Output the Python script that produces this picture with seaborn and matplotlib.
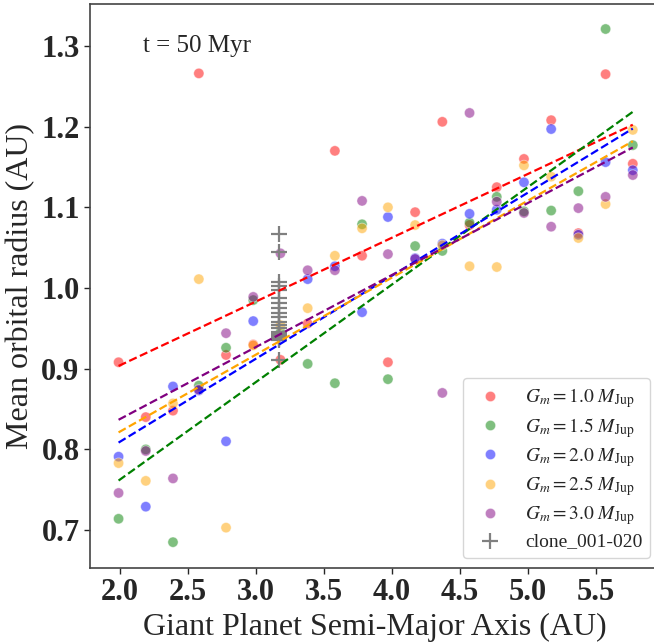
import numpy as np
import pandas as pd
import matplotlib
matplotlib.use("Agg")
import matplotlib.pyplot as plt
import seaborn as sns

# ---- data ----
a_giant = [1.99, 2.19, 2.39, 2.58, 2.78, 2.98, 3.18, 3.38, 3.58, 3.78,
           3.97, 4.17, 4.37, 4.57, 4.77, 4.97, 5.17, 5.37, 5.57, 5.77]
r_m10 = [0.908, 0.840, 0.848, 1.266, 0.917, 0.930, 0.911, 0.956, 1.170, 1.040,
         0.908, 1.094, 1.206, 1.078, 1.125, 1.160, 1.208, 1.068, 1.265, 1.154]
r_m15 = [0.714, 0.800, 0.685, 0.879, 0.926, 0.985, 0.945, 0.906, 0.882, 1.079,
         0.887, 1.052, 1.046, 1.081, 1.113, 1.095, 1.096, 1.120, 1.321, 1.177]
r_m20 = [0.791, 0.729, 0.878, 0.873, 0.810, 0.959, 0.940, 1.011, 1.027, 0.970,
         1.088, 1.037, 1.055, 1.092, 1.097, 1.131, 1.197, 1.066, 1.156, 1.146]
r_m25 = [0.783, 0.761, 0.857, 1.011, 0.703, 0.929, 0.954, 0.975, 1.040, 1.074,
         1.100, 1.078, 1.053, 1.027, 1.026, 1.152, 1.138, 1.062, 1.104, 1.196]
r_m30 = [0.746, 0.798, 0.764, 0.874, 0.944, 0.989, 1.043, 1.022, 1.022, 1.108,
         1.042, 1.036, 0.870, 1.217, 1.107, 1.093, 1.076, 1.099, 1.113, 1.140]
masses = ["1.0", "1.5", "2.0", "2.5", "3.0"]
colors = ["red", "green", "blue", "orange", "purple"]

clone_a = 3.17
clone_r = [1.067, 1.045, 1.007, 1.003, 0.997, 0.988, 0.981, 0.975, 0.969, 0.964,
           0.958, 0.954, 0.950, 0.946, 0.943, 0.941, 0.939, 0.937, 0.935, 0.911]

series = [r_m10, r_m15, r_m20, r_m25, r_m30]
labels = [r"$G_m = %s\ M_{\rm Jup}$" % m for m in masses]

rows = []
for lab, vals in zip(labels, series):
    for a, r in zip(a_giant, vals):
        rows.append({"a": a, "r": r, "mass": lab})
df = pd.DataFrame(rows)
clones = pd.DataFrame({"a": [clone_a] * len(clone_r), "r": clone_r})

# ---- style ----
sns.set_style("ticks")
plt.rcParams["font.family"] = ["Liberation Serif", "DejaVu Serif"]
plt.rcParams["mathtext.fontset"] = "stix"

fig = plt.figure(figsize=(6.54, 6.44), dpi=100)
ax = fig.add_axes([90 / 654, 76 / 644, 570 / 654, 564 / 644])

palette = dict(zip(labels, colors))
sns.scatterplot(data=df, x="a", y="r", hue="mass", palette=palette,
                s=55, alpha=0.5, edgecolor="white", linewidth=0.6, ax=ax)
for lab, col in zip(labels, colors):
    sns.regplot(data=df[df["mass"] == lab], x="a", y="r", scatter=False,
                ci=None, truncate=True, color=col, ax=ax,
                line_kws={"linestyle": "--", "linewidth": 1.6})
sns.scatterplot(data=clones, x="a", y="r", marker="+", color="gray",
                s=120, linewidth=1.6, ax=ax, label="clone_001-020")

ax.set_xlim(1.78, 5.97)
ax.set_ylim(0.653, 1.352)
ax.set_xticks([2.0, 2.5, 3.0, 3.5, 4.0, 4.5, 5.0, 5.5])
ax.set_yticks([0.7, 0.8, 0.9, 1.0, 1.1, 1.2, 1.3])
ax.tick_params(labelsize=22, length=4, width=1)
for t in ax.get_xticklabels() + ax.get_yticklabels():
    t.set_fontweight("bold")
for sp in ax.spines.values():
    sp.set_linewidth(1.2)
    sp.set_color("#444444")

ax.set_xlabel("Giant Planet Semi-Major Axis (AU)", fontsize=23)
ax.set_ylabel("Mean orbital radius (AU)", fontsize=23)
ax.text(0.093, 0.945, "t = 50 Myr", transform=ax.transAxes, fontsize=18,
        va="top", ha="left")

leg = ax.legend(loc="lower right", fontsize=14, frameon=True, labelspacing=0.3)

fig.savefig("out.png", dpi=100)
